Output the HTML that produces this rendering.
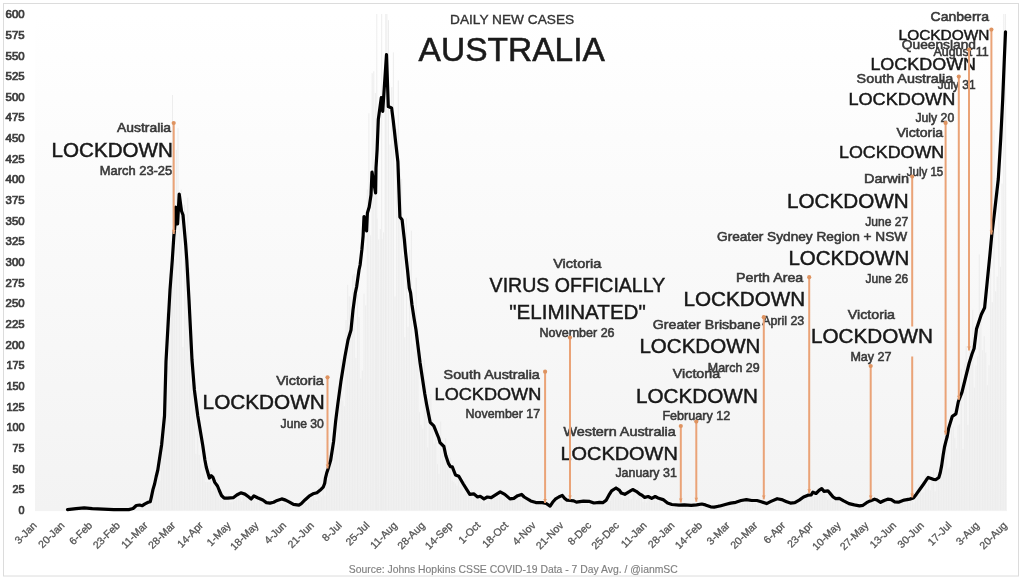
<!DOCTYPE html><html><head><meta charset="utf-8"><style>html,body{margin:0;padding:0;background:#fff;}svg{display:block;will-change:transform;}text{font-family:'Liberation Sans', Arial, sans-serif;}</style></head><body><svg width="1023" height="579" viewBox="0 0 1023 579"><defs><linearGradient id="pg" x1="0" y1="0" x2="0" y2="1"><stop offset="0" stop-color="#ffffff"/><stop offset="0.5" stop-color="#f9f9f9"/><stop offset="1" stop-color="#f3f3f3"/></linearGradient></defs><rect x="3.5" y="3.5" width="1015" height="572.5" fill="#fff" stroke="#dcdcdc" stroke-width="1"/><rect x="35" y="14" width="972" height="497.1" fill="url(#pg)"/><path d="M68.6 510.1V509.6M70.3 510.1V509.6M71.9 510.1V509.1M73.5 510.1V509.5M75.2 510.1V508.9M76.8 510.1V508.9M78.4 510.1V509.2M80.1 510.1V508.4M81.7 510.1V509.0M83.3 510.1V508.2M85.0 510.1V508.9M86.6 510.1V508.9M88.2 510.1V508.5M89.8 510.1V508.1M91.5 510.1V509.2M93.1 510.1V509.2M94.7 510.1V508.8M96.4 510.1V508.5M98.0 510.1V509.0M99.6 510.1V509.2M101.3 510.1V508.8M102.9 510.1V509.6M104.5 510.1V509.1M106.2 510.1V509.5M107.8 510.1V509.7M109.4 510.1V509.7M111.1 510.1V509.6M112.7 510.1V509.5M114.3 510.1V509.8M116.0 510.1V509.6M117.6 510.1V509.6M119.2 510.1V509.7M120.9 510.1V509.6M122.5 510.1V509.8M124.1 510.1V509.8M125.8 510.1V509.8M127.4 510.1V509.6M129.0 510.1V509.6M130.6 510.1V509.4M132.3 510.1V508.7M133.9 510.1V508.0M135.5 510.1V507.2M137.2 510.1V504.5M138.8 510.1V504.7M140.4 510.1V506.6M142.1 510.1V505.7M143.7 510.1V505.0M145.3 510.1V502.2M147.0 510.1V502.1M148.6 510.1V504.2M150.2 510.1V498.9M151.9 510.1V500.9M153.5 510.1V491.0M155.1 510.1V477.4M156.8 510.1V487.5M158.4 510.1V469.8M160.0 510.1V480.9M161.7 510.1V440.0M163.3 510.1V415.8M164.9 510.1V402.1M166.6 510.1V312.8M168.2 510.1V366.2M169.8 510.1V273.6M171.4 510.1V269.9M173.1 510.1V249.9M174.7 510.1V258.9M176.3 510.1V149.8M178.0 510.1V128.1M179.6 510.1V227.4M181.2 510.1V189.7M182.9 510.1V347.1M184.5 510.1V204.9M186.1 510.1V238.0M187.8 510.1V197.6M189.4 510.1V267.9M191.0 510.1V384.4M192.7 510.1V392.7M194.3 510.1V380.4M195.9 510.1V453.8M197.6 510.1V424.5M199.2 510.1V454.9M200.8 510.1V464.4M202.5 510.1V473.5M204.1 510.1V446.0M205.7 510.1V482.1M207.4 510.1V482.2M209.0 510.1V482.2M210.6 510.1V468.3M212.2 510.1V491.1M213.9 510.1V483.5M215.5 510.1V484.2M217.1 510.1V479.4M218.8 510.1V485.1M220.4 510.1V489.0M222.0 510.1V499.7M223.7 510.1V499.5M225.3 510.1V500.5M226.9 510.1V495.2M228.6 510.1V494.4M230.2 510.1V502.5M231.8 510.1V502.1M233.5 510.1V501.3M235.1 510.1V500.4M236.7 510.1V496.4M238.4 510.1V494.1M240.0 510.1V497.9M241.6 510.1V501.5M243.3 510.1V496.0M244.9 510.1V497.1M246.5 510.1V495.6M248.2 510.1V492.3M249.8 510.1V496.8M251.4 510.1V499.5M253.0 510.1V496.5M254.7 510.1V495.3M256.3 510.1V503.0M257.9 510.1V494.7M259.6 510.1V496.7M261.2 510.1V496.7M262.8 510.1V498.2M264.5 510.1V502.7M266.1 510.1V503.6M267.7 510.1V505.8M269.4 510.1V502.7M271.0 510.1V506.1M272.6 510.1V505.8M274.3 510.1V504.5M275.9 510.1V504.3M277.5 510.1V502.4M279.2 510.1V504.5M280.8 510.1V504.6M282.4 510.1V503.2M284.1 510.1V504.0M285.7 510.1V502.0M287.3 510.1V505.3M289.0 510.1V499.8M290.6 510.1V502.6M292.2 510.1V506.1M293.8 510.1V506.1M295.5 510.1V505.8M297.1 510.1V505.9M298.7 510.1V507.1M300.4 510.1V502.9M302.0 510.1V500.4M303.6 510.1V502.2M305.3 510.1V500.6M306.9 510.1V503.3M308.5 510.1V502.2M310.2 510.1V498.6M311.8 510.1V498.8M313.4 510.1V490.3M315.1 510.1V499.3M316.7 510.1V501.1M318.3 510.1V485.9M320.0 510.1V491.3M321.6 510.1V496.8M323.2 510.1V488.0M324.9 510.1V495.5M326.5 510.1V475.8M328.1 510.1V455.0M329.8 510.1V452.3M331.4 510.1V450.6M333.0 510.1V463.3M334.6 510.1V446.0M336.3 510.1V449.8M337.9 510.1V386.6M339.5 510.1V397.1M341.2 510.1V358.8M342.8 510.1V400.6M344.4 510.1V406.3M346.1 510.1V320.1M347.7 510.1V284.8M349.3 510.1V296.3M351.0 510.1V296.8M352.6 510.1V275.6M354.2 510.1V273.9M355.9 510.1V357.9M357.5 510.1V294.4M359.1 510.1V317.0M360.8 510.1V378.5M362.4 510.1V370.7M364.0 510.1V293.7M365.7 510.1V305.3M367.3 510.1V189.4M368.9 510.1V113.3M370.6 510.1V235.4M372.2 510.1V73.2M373.8 510.1V71.3M375.4 510.1V93.0M377.1 510.1V218.7M378.7 510.1V239.5M380.3 510.1V229.1M382.0 510.1V239.3M383.6 510.1V232.4M385.2 510.1V60.2M386.9 510.1V14.0M388.5 510.1V20.2M390.1 510.1V144.6M391.8 510.1V87.1M393.4 510.1V52.4M395.0 510.1V296.4M396.7 510.1V128.9M398.3 510.1V80.4M399.9 510.1V168.6M401.6 510.1V179.0M403.2 510.1V255.6M404.8 510.1V337.1M406.5 510.1V218.0M408.1 510.1V326.8M409.7 510.1V249.8M411.4 510.1V230.8M413.0 510.1V343.9M414.6 510.1V351.6M416.2 510.1V277.7M417.9 510.1V326.0M419.5 510.1V412.2M421.1 510.1V424.9M422.8 510.1V428.7M424.4 510.1V359.5M426.0 510.1V380.8M427.7 510.1V447.4M429.3 510.1V399.1M430.9 510.1V394.0M432.6 510.1V419.7M434.2 510.1V443.7M435.8 510.1V433.6M437.5 510.1V464.2M439.1 510.1V473.9M440.7 510.1V421.6M442.4 510.1V441.6M444.0 510.1V450.2M445.6 510.1V438.4M447.3 510.1V466.5M448.9 510.1V453.0M450.5 510.1V457.8M452.2 510.1V480.7M453.8 510.1V481.9M455.4 510.1V483.6M457.0 510.1V485.8M458.7 510.1V476.3M460.3 510.1V487.6M461.9 510.1V485.8M463.6 510.1V494.4M465.2 510.1V480.7M466.8 510.1V493.7M468.5 510.1V494.2M470.1 510.1V494.4M471.7 510.1V489.8M473.4 510.1V496.2M475.0 510.1V490.6M476.6 510.1V497.2M478.3 510.1V497.5M479.9 510.1V497.1M481.5 510.1V503.4M483.2 510.1V499.8M484.8 510.1V502.5M486.4 510.1V503.8M488.1 510.1V494.8M489.7 510.1V501.9M491.3 510.1V498.7M493.0 510.1V494.9M494.6 510.1V495.8M496.2 510.1V497.9M497.8 510.1V494.3M499.5 510.1V492.8M501.1 510.1V489.4M502.7 510.1V500.1M504.4 510.1V494.5M506.0 510.1V499.7M507.6 510.1V500.4M509.3 510.1V496.4M510.9 510.1V499.5M512.5 510.1V498.8M514.2 510.1V496.3M515.8 510.1V493.3M517.4 510.1V497.6M519.1 510.1V494.9M520.7 510.1V495.8M522.3 510.1V496.1M524.0 510.1V495.6M525.6 510.1V499.3M527.2 510.1V499.3M528.9 510.1V500.8M530.5 510.1V498.0M532.1 510.1V500.5M533.8 510.1V499.9M535.4 510.1V500.1M537.0 510.1V504.7M538.6 510.1V502.8M540.3 510.1V500.3M541.9 510.1V501.0M543.5 510.1V505.7M545.2 510.1V506.0M546.8 510.1V504.7M548.4 510.1V507.2M550.1 510.1V507.3M551.7 510.1V506.5M553.3 510.1V500.9M555.0 510.1V497.8M556.6 510.1V495.3M558.2 510.1V502.1M559.9 510.1V495.0M561.5 510.1V494.9M563.1 510.1V501.6M564.8 510.1V495.6M566.4 510.1V496.5M568.0 510.1V503.3M569.7 510.1V497.4M571.3 510.1V502.2M572.9 510.1V501.6M574.6 510.1V498.3M576.2 510.1V500.3M577.8 510.1V504.9M579.4 510.1V502.8M581.1 510.1V502.0M582.7 510.1V503.2M584.3 510.1V504.2M586.0 510.1V503.3M587.6 510.1V500.3M589.2 510.1V505.6M590.9 510.1V502.1M592.5 510.1V503.4M594.1 510.1V506.4M595.8 510.1V504.4M597.4 510.1V502.4M599.0 510.1V502.9M600.7 510.1V505.9M602.3 510.1V500.1M603.9 510.1V500.5M605.6 510.1V497.6M607.2 510.1V503.2M608.8 510.1V499.4M610.5 510.1V500.8M612.1 510.1V487.3M613.7 510.1V495.0M615.4 510.1V496.9M617.0 510.1V491.7M618.6 510.1V484.2M620.2 510.1V487.9M621.9 510.1V498.0M623.5 510.1V499.9M625.1 510.1V489.6M626.8 510.1V493.4M628.4 510.1V490.5M630.0 510.1V499.2M631.7 510.1V499.1M633.3 510.1V488.1M634.9 510.1V493.3M636.6 510.1V499.7M638.2 510.1V487.8M639.8 510.1V493.5M641.5 510.1V492.2M643.1 510.1V502.1M644.7 510.1V494.5M646.4 510.1V502.8M648.0 510.1V493.4M649.6 510.1V498.7M651.3 510.1V500.6M652.9 510.1V498.1M654.5 510.1V493.0M656.2 510.1V500.6M657.8 510.1V502.6M659.4 510.1V499.1M661.0 510.1V502.3M662.7 510.1V503.8M664.3 510.1V504.0M665.9 510.1V505.6M667.6 510.1V505.4M669.2 510.1V505.2M670.8 510.1V505.6M672.5 510.1V503.7M674.1 510.1V506.1M675.7 510.1V505.2M677.4 510.1V506.8M679.0 510.1V506.1M680.6 510.1V507.5M682.3 510.1V506.4M683.9 510.1V507.4M685.5 510.1V504.3M687.2 510.1V505.2M688.8 510.1V506.8M690.4 510.1V505.7M692.1 510.1V503.8M693.7 510.1V507.2M695.3 510.1V504.0M697.0 510.1V505.5M698.6 510.1V505.0M700.2 510.1V503.1M701.8 510.1V505.0M703.5 510.1V504.8M705.1 510.1V504.4M706.7 510.1V503.8M708.4 510.1V506.8M710.0 510.1V505.9M711.6 510.1V506.6M713.3 510.1V506.9M714.9 510.1V507.4M716.5 510.1V507.3M718.2 510.1V508.0M719.8 510.1V507.6M721.4 510.1V507.6M723.1 510.1V504.5M724.7 510.1V506.2M726.3 510.1V506.3M728.0 510.1V506.5M729.6 510.1V501.9M731.2 510.1V501.3M732.9 510.1V502.2M734.5 510.1V504.5M736.1 510.1V504.5M737.8 510.1V503.8M739.4 510.1V502.1M741.0 510.1V504.0M742.6 510.1V501.4M744.3 510.1V502.8M745.9 510.1V496.4M747.5 510.1V496.4M749.2 510.1V500.4M750.8 510.1V503.2M752.4 510.1V497.4M754.1 510.1V502.8M755.7 510.1V502.4M757.3 510.1V505.4M759.0 510.1V502.7M760.6 510.1V502.4M762.2 510.1V502.7M763.9 510.1V505.1M765.5 510.1V503.7M767.1 510.1V506.7M768.8 510.1V504.6M770.4 510.1V505.3M772.0 510.1V502.4M773.7 510.1V504.8M775.3 510.1V504.6M776.9 510.1V501.5M778.6 510.1V502.3M780.2 510.1V499.3M781.8 510.1V500.2M783.4 510.1V499.0M785.1 510.1V500.5M786.7 510.1V500.8M788.3 510.1V500.4M790.0 510.1V504.1M791.6 510.1V504.6M793.2 510.1V500.4M794.9 510.1V505.4M796.5 510.1V500.7M798.1 510.1V500.3M799.8 510.1V504.5M801.4 510.1V496.1M803.0 510.1V494.1M804.7 510.1V496.1M806.3 510.1V494.1M807.9 510.1V492.4M809.6 510.1V500.8M811.2 510.1V495.6M812.8 510.1V493.6M814.5 510.1V489.2M816.1 510.1V490.3M817.7 510.1V488.1M819.4 510.1V490.3M821.0 510.1V483.7M822.6 510.1V488.1M824.2 510.1V489.6M825.9 510.1V496.9M827.5 510.1V500.0M829.1 510.1V499.2M830.8 510.1V497.3M832.4 510.1V501.9M834.0 510.1V495.0M835.7 510.1V498.9M837.3 510.1V498.1M838.9 510.1V498.0M840.6 510.1V498.2M842.2 510.1V500.9M843.8 510.1V505.5M845.5 510.1V500.3M847.1 510.1V501.6M848.7 510.1V503.9M850.4 510.1V504.2M852.0 510.1V504.0M853.6 510.1V507.1M855.3 510.1V504.4M856.9 510.1V506.7M858.5 510.1V507.6M860.2 510.1V506.9M861.8 510.1V504.9M863.4 510.1V506.7M865.0 510.1V503.0M866.7 510.1V500.2M868.3 510.1V502.5M869.9 510.1V502.6M871.6 510.1V501.2M873.2 510.1V498.9M874.8 510.1V497.7M876.5 510.1V499.6M878.1 510.1V500.3M879.7 510.1V505.4M881.4 510.1V505.0M883.0 510.1V503.7M884.6 510.1V499.1M886.3 510.1V502.2M887.9 510.1V499.4M889.5 510.1V504.6M891.2 510.1V504.3M892.8 510.1V503.2M894.4 510.1V501.0M896.1 510.1V501.2M897.7 510.1V501.5M899.3 510.1V504.0M901.0 510.1V501.8M902.6 510.1V501.7M904.2 510.1V501.1M905.8 510.1V503.9M907.5 510.1V496.8M909.1 510.1V502.8M910.7 510.1V495.1M912.4 510.1V494.8M914.0 510.1V503.5M915.6 510.1V496.8M917.3 510.1V489.5M918.9 510.1V484.3M920.5 510.1V490.9M922.2 510.1V492.6M923.8 510.1V492.2M925.4 510.1V472.6M927.1 510.1V489.0M928.7 510.1V477.8M930.3 510.1V490.3M932.0 510.1V480.5M933.6 510.1V469.8M935.2 510.1V491.4M936.9 510.1V472.8M938.5 510.1V479.9M940.1 510.1V463.7M941.8 510.1V460.6M943.4 510.1V470.9M945.0 510.1V427.7M946.6 510.1V444.7M948.3 510.1V468.5M949.9 510.1V466.8M951.5 510.1V426.3M953.2 510.1V426.7M954.8 510.1V437.9M956.4 510.1V448.8M958.1 510.1V425.2M959.7 510.1V424.0M961.3 510.1V368.9M963.0 510.1V449.0M964.6 510.1V363.8M966.2 510.1V346.1M967.9 510.1V424.8M969.5 510.1V319.5M971.1 510.1V340.5M972.8 510.1V309.9M974.4 510.1V387.7M976.0 510.1V365.5M977.7 510.1V356.2M979.3 510.1V254.5M980.9 510.1V315.5M982.6 510.1V350.3M984.2 510.1V336.1M985.8 510.1V352.7M987.4 510.1V385.2M989.1 510.1V365.2M990.7 510.1V190.9M992.3 510.1V302.1M994.0 510.1V130.1M995.6 510.1V291.3M997.2 510.1V276.6M998.9 510.1V191.9M1000.5 510.1V266.9M1002.1 510.1V183.6M1003.8 510.1V14.0M1005.4 510.1V14.0M172.5 510.1V95.0M376.8 510.1V14.0M381.7 510.1V14.0M385.8 510.1V14.0" stroke="#ebebeb" stroke-width="0.9" fill="none"/><text x="18.60" y="513.80" font-size="10.4" fill="#3c3c3c" stroke="#3c3c3c" stroke-width="0.7" textLength="6.0" lengthAdjust="spacingAndGlyphs">0</text><text x="12.60" y="493.15" font-size="10.4" fill="#3c3c3c" stroke="#3c3c3c" stroke-width="0.7" textLength="12.0" lengthAdjust="spacingAndGlyphs">25</text><text x="12.60" y="472.50" font-size="10.4" fill="#3c3c3c" stroke="#3c3c3c" stroke-width="0.7" textLength="12.0" lengthAdjust="spacingAndGlyphs">50</text><text x="12.60" y="451.85" font-size="10.4" fill="#3c3c3c" stroke="#3c3c3c" stroke-width="0.7" textLength="12.0" lengthAdjust="spacingAndGlyphs">75</text><text x="6.40" y="431.20" font-size="10.4" fill="#3c3c3c" stroke="#3c3c3c" stroke-width="0.7" textLength="18.2" lengthAdjust="spacingAndGlyphs">100</text><text x="6.40" y="410.55" font-size="10.4" fill="#3c3c3c" stroke="#3c3c3c" stroke-width="0.7" textLength="18.2" lengthAdjust="spacingAndGlyphs">125</text><text x="6.40" y="389.90" font-size="10.4" fill="#3c3c3c" stroke="#3c3c3c" stroke-width="0.7" textLength="18.2" lengthAdjust="spacingAndGlyphs">150</text><text x="6.40" y="369.25" font-size="10.4" fill="#3c3c3c" stroke="#3c3c3c" stroke-width="0.7" textLength="18.2" lengthAdjust="spacingAndGlyphs">175</text><text x="5.60" y="348.60" font-size="10.4" fill="#3c3c3c" stroke="#3c3c3c" stroke-width="0.7" textLength="19.0" lengthAdjust="spacingAndGlyphs">200</text><text x="5.60" y="327.95" font-size="10.4" fill="#3c3c3c" stroke="#3c3c3c" stroke-width="0.7" textLength="19.0" lengthAdjust="spacingAndGlyphs">225</text><text x="5.60" y="307.30" font-size="10.4" fill="#3c3c3c" stroke="#3c3c3c" stroke-width="0.7" textLength="19.0" lengthAdjust="spacingAndGlyphs">250</text><text x="5.60" y="286.65" font-size="10.4" fill="#3c3c3c" stroke="#3c3c3c" stroke-width="0.7" textLength="19.0" lengthAdjust="spacingAndGlyphs">275</text><text x="5.60" y="266.00" font-size="10.4" fill="#3c3c3c" stroke="#3c3c3c" stroke-width="0.7" textLength="19.0" lengthAdjust="spacingAndGlyphs">300</text><text x="5.60" y="245.35" font-size="10.4" fill="#3c3c3c" stroke="#3c3c3c" stroke-width="0.7" textLength="19.0" lengthAdjust="spacingAndGlyphs">325</text><text x="5.60" y="224.70" font-size="10.4" fill="#3c3c3c" stroke="#3c3c3c" stroke-width="0.7" textLength="19.0" lengthAdjust="spacingAndGlyphs">350</text><text x="5.60" y="204.05" font-size="10.4" fill="#3c3c3c" stroke="#3c3c3c" stroke-width="0.7" textLength="19.0" lengthAdjust="spacingAndGlyphs">375</text><text x="5.60" y="183.40" font-size="10.4" fill="#3c3c3c" stroke="#3c3c3c" stroke-width="0.7" textLength="19.0" lengthAdjust="spacingAndGlyphs">400</text><text x="5.60" y="162.75" font-size="10.4" fill="#3c3c3c" stroke="#3c3c3c" stroke-width="0.7" textLength="19.0" lengthAdjust="spacingAndGlyphs">425</text><text x="5.60" y="142.10" font-size="10.4" fill="#3c3c3c" stroke="#3c3c3c" stroke-width="0.7" textLength="19.0" lengthAdjust="spacingAndGlyphs">450</text><text x="5.60" y="121.45" font-size="10.4" fill="#3c3c3c" stroke="#3c3c3c" stroke-width="0.7" textLength="19.0" lengthAdjust="spacingAndGlyphs">475</text><text x="5.60" y="100.80" font-size="10.4" fill="#3c3c3c" stroke="#3c3c3c" stroke-width="0.7" textLength="19.0" lengthAdjust="spacingAndGlyphs">500</text><text x="5.60" y="80.15" font-size="10.4" fill="#3c3c3c" stroke="#3c3c3c" stroke-width="0.7" textLength="19.0" lengthAdjust="spacingAndGlyphs">525</text><text x="5.60" y="59.50" font-size="10.4" fill="#3c3c3c" stroke="#3c3c3c" stroke-width="0.7" textLength="19.0" lengthAdjust="spacingAndGlyphs">550</text><text x="5.60" y="38.85" font-size="10.4" fill="#3c3c3c" stroke="#3c3c3c" stroke-width="0.7" textLength="19.0" lengthAdjust="spacingAndGlyphs">575</text><text x="5.60" y="18.20" font-size="10.4" fill="#3c3c3c" stroke="#3c3c3c" stroke-width="0.7" textLength="19.0" lengthAdjust="spacingAndGlyphs">600</text><text transform="translate(37.50,526.00) rotate(-45)" x="0" y="0" font-size="10.5" fill="#555555" stroke="#555555" stroke-width="0.3" text-anchor="end">3-Jan</text><text transform="translate(65.22,526.00) rotate(-45)" x="0" y="0" font-size="10.5" fill="#555555" stroke="#555555" stroke-width="0.3" text-anchor="end">20-Jan</text><text transform="translate(92.94,526.00) rotate(-45)" x="0" y="0" font-size="10.5" fill="#555555" stroke="#555555" stroke-width="0.3" text-anchor="end">6-Feb</text><text transform="translate(120.66,526.00) rotate(-45)" x="0" y="0" font-size="10.5" fill="#555555" stroke="#555555" stroke-width="0.3" text-anchor="end">23-Feb</text><text transform="translate(148.38,526.00) rotate(-45)" x="0" y="0" font-size="10.5" fill="#555555" stroke="#555555" stroke-width="0.3" text-anchor="end">11-Mar</text><text transform="translate(176.10,526.00) rotate(-45)" x="0" y="0" font-size="10.5" fill="#555555" stroke="#555555" stroke-width="0.3" text-anchor="end">28-Mar</text><text transform="translate(203.82,526.00) rotate(-45)" x="0" y="0" font-size="10.5" fill="#555555" stroke="#555555" stroke-width="0.3" text-anchor="end">14-Apr</text><text transform="translate(231.54,526.00) rotate(-45)" x="0" y="0" font-size="10.5" fill="#555555" stroke="#555555" stroke-width="0.3" text-anchor="end">1-May</text><text transform="translate(259.26,526.00) rotate(-45)" x="0" y="0" font-size="10.5" fill="#555555" stroke="#555555" stroke-width="0.3" text-anchor="end">18-May</text><text transform="translate(286.98,526.00) rotate(-45)" x="0" y="0" font-size="10.5" fill="#555555" stroke="#555555" stroke-width="0.3" text-anchor="end">4-Jun</text><text transform="translate(314.70,526.00) rotate(-45)" x="0" y="0" font-size="10.5" fill="#555555" stroke="#555555" stroke-width="0.3" text-anchor="end">21-Jun</text><text transform="translate(342.42,526.00) rotate(-45)" x="0" y="0" font-size="10.5" fill="#555555" stroke="#555555" stroke-width="0.3" text-anchor="end">8-Jul</text><text transform="translate(370.14,526.00) rotate(-45)" x="0" y="0" font-size="10.5" fill="#555555" stroke="#555555" stroke-width="0.3" text-anchor="end">25-Jul</text><text transform="translate(397.86,526.00) rotate(-45)" x="0" y="0" font-size="10.5" fill="#555555" stroke="#555555" stroke-width="0.3" text-anchor="end">11-Aug</text><text transform="translate(425.58,526.00) rotate(-45)" x="0" y="0" font-size="10.5" fill="#555555" stroke="#555555" stroke-width="0.3" text-anchor="end">28-Aug</text><text transform="translate(453.30,526.00) rotate(-45)" x="0" y="0" font-size="10.5" fill="#555555" stroke="#555555" stroke-width="0.3" text-anchor="end">14-Sep</text><text transform="translate(481.02,526.00) rotate(-45)" x="0" y="0" font-size="10.5" fill="#555555" stroke="#555555" stroke-width="0.3" text-anchor="end">1-Oct</text><text transform="translate(508.74,526.00) rotate(-45)" x="0" y="0" font-size="10.5" fill="#555555" stroke="#555555" stroke-width="0.3" text-anchor="end">18-Oct</text><text transform="translate(536.46,526.00) rotate(-45)" x="0" y="0" font-size="10.5" fill="#555555" stroke="#555555" stroke-width="0.3" text-anchor="end">4-Nov</text><text transform="translate(564.18,526.00) rotate(-45)" x="0" y="0" font-size="10.5" fill="#555555" stroke="#555555" stroke-width="0.3" text-anchor="end">21-Nov</text><text transform="translate(591.90,526.00) rotate(-45)" x="0" y="0" font-size="10.5" fill="#555555" stroke="#555555" stroke-width="0.3" text-anchor="end">8-Dec</text><text transform="translate(619.62,526.00) rotate(-45)" x="0" y="0" font-size="10.5" fill="#555555" stroke="#555555" stroke-width="0.3" text-anchor="end">25-Dec</text><text transform="translate(647.34,526.00) rotate(-45)" x="0" y="0" font-size="10.5" fill="#555555" stroke="#555555" stroke-width="0.3" text-anchor="end">11-Jan</text><text transform="translate(675.06,526.00) rotate(-45)" x="0" y="0" font-size="10.5" fill="#555555" stroke="#555555" stroke-width="0.3" text-anchor="end">28-Jan</text><text transform="translate(702.78,526.00) rotate(-45)" x="0" y="0" font-size="10.5" fill="#555555" stroke="#555555" stroke-width="0.3" text-anchor="end">14-Feb</text><text transform="translate(730.50,526.00) rotate(-45)" x="0" y="0" font-size="10.5" fill="#555555" stroke="#555555" stroke-width="0.3" text-anchor="end">3-Mar</text><text transform="translate(758.22,526.00) rotate(-45)" x="0" y="0" font-size="10.5" fill="#555555" stroke="#555555" stroke-width="0.3" text-anchor="end">20-Mar</text><text transform="translate(785.94,526.00) rotate(-45)" x="0" y="0" font-size="10.5" fill="#555555" stroke="#555555" stroke-width="0.3" text-anchor="end">6-Apr</text><text transform="translate(813.66,526.00) rotate(-45)" x="0" y="0" font-size="10.5" fill="#555555" stroke="#555555" stroke-width="0.3" text-anchor="end">23-Apr</text><text transform="translate(841.38,526.00) rotate(-45)" x="0" y="0" font-size="10.5" fill="#555555" stroke="#555555" stroke-width="0.3" text-anchor="end">10-May</text><text transform="translate(869.10,526.00) rotate(-45)" x="0" y="0" font-size="10.5" fill="#555555" stroke="#555555" stroke-width="0.3" text-anchor="end">27-May</text><text transform="translate(896.82,526.00) rotate(-45)" x="0" y="0" font-size="10.5" fill="#555555" stroke="#555555" stroke-width="0.3" text-anchor="end">13-Jun</text><text transform="translate(924.54,526.00) rotate(-45)" x="0" y="0" font-size="10.5" fill="#555555" stroke="#555555" stroke-width="0.3" text-anchor="end">30-Jun</text><text transform="translate(952.26,526.00) rotate(-45)" x="0" y="0" font-size="10.5" fill="#555555" stroke="#555555" stroke-width="0.3" text-anchor="end">17-Jul</text><text transform="translate(979.98,526.00) rotate(-45)" x="0" y="0" font-size="10.5" fill="#555555" stroke="#555555" stroke-width="0.3" text-anchor="end">3-Aug</text><text transform="translate(1007.70,526.00) rotate(-45)" x="0" y="0" font-size="10.5" fill="#555555" stroke="#555555" stroke-width="0.3" text-anchor="end">20-Aug</text><path d="M67.5 509.6 L76.1 508.7 L84.2 507.8 L92.3 508.7 L103.0 509.2 L113.8 509.6 L128.8 509.6 L133.1 508.5 L136.3 505.5 L139.6 505.0 L142.3 505.7 L145.0 503.9 L148.2 502.3 L150.3 501.7 L151.4 496.9 L153.0 489.4 L154.6 484.0 L156.2 476.5 L157.8 470.0 L161.6 445.0 L164.5 416.0 L166.0 361.4 L170.0 290.0 L172.3 260.0 L173.8 237.0 L175.0 224.0 L175.6 207.0 L177.6 224.0 L179.2 194.0 L181.5 211.0 L183.0 215.0 L185.7 245.0 L186.8 260.0 L189.0 300.0 L192.0 360.0 L194.4 390.0 L197.8 416.0 L202.7 445.0 L204.9 460.0 L206.3 467.2 L208.1 473.5 L209.4 478.0 L211.2 475.7 L213.0 477.5 L214.8 482.4 L217.5 486.0 L219.3 490.5 L221.5 495.5 L224.2 498.2 L227.8 498.2 L233.2 497.7 L236.8 495.0 L240.8 492.8 L244.9 494.1 L248.5 496.8 L251.2 499.0 L253.9 495.9 L257.5 497.7 L262.8 500.0 L266.4 502.6 L270.0 503.1 L273.6 502.2 L277.2 500.4 L281.7 498.9 L285.6 500.1 L289.5 502.1 L293.5 504.4 L298.9 505.2 L301.3 503.6 L305.2 499.7 L309.1 496.2 L313.0 493.8 L316.9 492.7 L320.0 490.3 L323.2 487.2 L324.7 483.3 L325.5 477.8 L326.7 473.1 L328.2 468.5 L330.7 460.0 L333.6 441.5 L335.7 420.7 L337.8 404.1 L340.9 381.6 L344.9 356.7 L348.0 340.0 L351.0 330.0 L353.0 310.0 L355.3 293.0 L356.6 287.0 L359.0 270.0 L360.1 265.0 L361.9 249.4 L363.1 236.0 L364.0 216.5 L366.6 231.0 L367.4 213.0 L369.2 207.0 L371.0 195.0 L372.0 172.0 L375.6 193.0 L376.0 168.0 L377.1 150.0 L378.3 119.5 L381.3 97.6 L382.7 111.4 L386.5 54.7 L388.3 106.6 L391.6 107.9 L393.2 120.3 L396.0 145.2 L397.9 161.7 L399.9 216.9 L402.1 219.7 L404.3 239.0 L405.5 252.0 L407.5 270.0 L409.3 288.0 L410.6 293.0 L412.0 305.0 L414.0 318.0 L416.0 330.0 L420.1 363.0 L424.8 394.0 L426.6 404.2 L430.2 422.3 L433.8 425.9 L438.7 438.0 L440.0 442.6 L443.9 446.5 L445.8 455.5 L448.4 463.3 L450.4 466.6 L452.3 466.8 L455.5 475.0 L458.8 476.3 L463.3 484.0 L469.8 494.4 L473.7 493.8 L477.6 497.0 L480.2 496.3 L484.0 498.9 L487.3 497.0 L491.2 497.6 L500.2 491.8 L504.8 494.4 L510.0 498.9 L513.8 498.3 L517.7 495.7 L521.6 494.4 L524.2 497.0 L530.7 500.9 L535.9 502.6 L542.3 502.6 L546.2 503.5 L550.1 506.1 L552.6 502.3 L555.3 499.2 L558.8 497.0 L562.3 495.4 L564.5 498.3 L566.7 500.1 L570.2 500.5 L573.7 500.9 L576.4 502.1 L583.4 501.2 L589.6 501.4 L594.0 503.0 L599.3 502.4 L602.8 502.7 L606.3 500.1 L608.9 495.2 L611.6 490.8 L616.0 488.0 L619.5 490.4 L621.2 493.0 L624.8 494.3 L629.2 491.7 L632.7 489.5 L636.2 491.3 L640.0 494.3 L642.0 495.2 L644.7 497.4 L648.2 496.5 L651.7 498.3 L655.2 496.5 L658.7 498.3 L663.1 499.6 L667.5 503.1 L671.9 504.5 L679.0 505.1 L684.3 504.9 L691.3 505.3 L696.6 504.9 L701.8 504.0 L705.4 504.9 L710.6 506.8 L714.2 507.1 L718.6 506.2 L720.0 506.0 L725.3 504.5 L730.6 503.1 L735.8 502.3 L741.1 500.5 L746.4 499.6 L751.7 500.5 L756.9 500.5 L761.3 501.8 L766.6 503.6 L771.0 501.4 L777.2 498.7 L781.6 499.6 L786.0 501.4 L790.4 503.1 L794.8 502.7 L799.2 500.1 L803.6 497.0 L808.0 495.2 L811.2 494.8 L812.9 492.2 L816.0 493.5 L819.1 490.4 L821.7 488.6 L823.9 491.3 L827.9 490.8 L830.5 493.9 L833.1 497.0 L835.8 498.7 L839.3 498.3 L843.7 500.9 L849.0 503.6 L854.3 504.9 L859.5 505.8 L863.0 505.3 L866.6 502.7 L870.1 500.9 L874.5 499.2 L877.1 500.1 L880.6 502.3 L884.2 500.5 L887.7 499.2 L891.2 499.6 L894.7 501.8 L898.5 502.2 L904.2 500.1 L909.8 499.1 L913.4 498.0 L916.2 494.4 L919.7 489.5 L923.3 484.5 L926.1 480.3 L928.2 477.4 L930.4 478.2 L933.2 479.3 L936.0 479.6 L938.9 477.4 L940.3 472.5 L941.7 465.4 L943.1 455.5 L944.5 447.0 L945.9 441.3 L947.2 436.5 L948.6 428.4 L952.3 416.3 L955.9 413.9 L958.3 401.8 L962.0 392.1 L965.6 377.5 L969.2 363.0 L972.0 354.0 L974.1 348.5 L976.5 329.1 L981.3 314.5 L984.6 307.8 L987.2 281.8 L989.8 255.9 L991.8 234.6 L994.7 210.8 L998.3 179.0 L1000.7 139.2 L1002.7 99.5 L1004.3 59.7 L1005.5 31.9" fill="none" stroke="#000" stroke-width="3.2" stroke-linejoin="round" stroke-linecap="round"/><text x="117.00" y="132.00" font-size="12.65" font-weight="normal" fill="#383838" stroke="#383838" stroke-width="0.55" textLength="54.03" lengthAdjust="spacingAndGlyphs">Australia</text><text x="51.60" y="157.00" font-size="19.51" font-weight="normal" fill="#181818" stroke="#181818" stroke-width="0.45" textLength="121.26" lengthAdjust="spacingAndGlyphs">LOCKDOWN</text><text x="99.80" y="174.80" font-size="12.35" font-weight="normal" fill="#383838" stroke="#383838" stroke-width="0.55" textLength="72.41" lengthAdjust="spacingAndGlyphs">March 23-25</text><text x="276.20" y="385.00" font-size="12.65" font-weight="normal" fill="#383838" stroke="#383838" stroke-width="0.55" textLength="47.64" lengthAdjust="spacingAndGlyphs">Victoria</text><text x="202.60" y="409.10" font-size="19.75" font-weight="normal" fill="#181818" stroke="#181818" stroke-width="0.45" textLength="122.24" lengthAdjust="spacingAndGlyphs">LOCKDOWN</text><text x="280.60" y="427.90" font-size="12.35" font-weight="normal" fill="#383838" stroke="#383838" stroke-width="0.55" textLength="43.21" lengthAdjust="spacingAndGlyphs">June 30</text><text x="443.60" y="379.10" font-size="12.65" font-weight="normal" fill="#383838" stroke="#383838" stroke-width="0.55" textLength="96.20" lengthAdjust="spacingAndGlyphs">South Australia</text><text x="434.60" y="400.30" font-size="17.21" font-weight="normal" fill="#181818" stroke="#181818" stroke-width="0.45" textLength="106.65" lengthAdjust="spacingAndGlyphs">LOCKDOWN</text><text x="465.60" y="418.40" font-size="12.35" font-weight="normal" fill="#383838" stroke="#383838" stroke-width="0.55" textLength="74.60" lengthAdjust="spacingAndGlyphs">November 17</text><text x="553.20" y="268.00" font-size="12.65" font-weight="normal" fill="#383838" stroke="#383838" stroke-width="0.55" textLength="48.23" lengthAdjust="spacingAndGlyphs">Victoria</text><text x="489.60" y="292.00" font-size="19.91" font-weight="normal" fill="#181818" stroke="#181818" stroke-width="0.45" textLength="175.61" lengthAdjust="spacingAndGlyphs">VIRUS OFFICIALLY</text><text x="509.20" y="318.80" font-size="20.49" font-weight="normal" fill="#181818" stroke="#181818" stroke-width="0.45" textLength="136.60" lengthAdjust="spacingAndGlyphs">"ELIMINATED"</text><text x="539.40" y="337.00" font-size="12.35" font-weight="normal" fill="#383838" stroke="#383838" stroke-width="0.55" textLength="75.20" lengthAdjust="spacingAndGlyphs">November 26</text><text x="563.40" y="436.30" font-size="12.65" font-weight="normal" fill="#383838" stroke="#383838" stroke-width="0.55" textLength="112.41" lengthAdjust="spacingAndGlyphs">Western Australia</text><text x="560.40" y="459.70" font-size="18.98" font-weight="normal" fill="#181818" stroke="#181818" stroke-width="0.45" textLength="117.44" lengthAdjust="spacingAndGlyphs">LOCKDOWN</text><text x="615.40" y="477.30" font-size="12.35" font-weight="normal" fill="#383838" stroke="#383838" stroke-width="0.55" textLength="61.41" lengthAdjust="spacingAndGlyphs">January 31</text><text x="672.80" y="377.90" font-size="12.65" font-weight="normal" fill="#383838" stroke="#383838" stroke-width="0.55" textLength="47.41" lengthAdjust="spacingAndGlyphs">Victoria</text><text x="636.00" y="402.50" font-size="19.66" font-weight="normal" fill="#181818" stroke="#181818" stroke-width="0.45" textLength="121.85" lengthAdjust="spacingAndGlyphs">LOCKDOWN</text><text x="662.40" y="420.10" font-size="12.35" font-weight="normal" fill="#383838" stroke="#383838" stroke-width="0.55" textLength="67.83" lengthAdjust="spacingAndGlyphs">February 12</text><text x="652.80" y="329.30" font-size="12.65" font-weight="normal" fill="#383838" stroke="#383838" stroke-width="0.55" textLength="107.81" lengthAdjust="spacingAndGlyphs">Greater Brisbane</text><text x="639.40" y="353.20" font-size="19.62" font-weight="normal" fill="#181818" stroke="#181818" stroke-width="0.45" textLength="121.06" lengthAdjust="spacingAndGlyphs">LOCKDOWN</text><text x="707.80" y="371.80" font-size="12.35" font-weight="normal" fill="#383838" stroke="#383838" stroke-width="0.55" textLength="51.81" lengthAdjust="spacingAndGlyphs">March 29</text><text x="736.00" y="281.90" font-size="12.65" font-weight="normal" fill="#383838" stroke="#383838" stroke-width="0.55" textLength="67.21" lengthAdjust="spacingAndGlyphs">Perth Area</text><text x="683.40" y="306.20" font-size="19.74" font-weight="normal" fill="#181818" stroke="#181818" stroke-width="0.45" textLength="121.83" lengthAdjust="spacingAndGlyphs">LOCKDOWN</text><text x="762.20" y="324.50" font-size="12.35" font-weight="normal" fill="#383838" stroke="#383838" stroke-width="0.55" textLength="42.01" lengthAdjust="spacingAndGlyphs">April 23</text><text x="847.80" y="319.10" font-size="12.65" font-weight="normal" fill="#383838" stroke="#383838" stroke-width="0.55" textLength="47.22" lengthAdjust="spacingAndGlyphs">Victoria</text><text x="811.00" y="343.30" font-size="19.57" font-weight="normal" fill="#181818" stroke="#181818" stroke-width="0.45" textLength="121.88" lengthAdjust="spacingAndGlyphs">LOCKDOWN</text><text x="850.40" y="360.90" font-size="12.35" font-weight="normal" fill="#383838" stroke="#383838" stroke-width="0.55" textLength="41.02" lengthAdjust="spacingAndGlyphs">May 27</text><text x="717.00" y="240.60" font-size="12.65" font-weight="normal" fill="#383838" stroke="#383838" stroke-width="0.55" textLength="190.20" lengthAdjust="spacingAndGlyphs">Greater Sydney Region + NSW</text><text x="788.40" y="265.00" font-size="19.57" font-weight="normal" fill="#181818" stroke="#181818" stroke-width="0.45" textLength="120.83" lengthAdjust="spacingAndGlyphs">LOCKDOWN</text><text x="865.60" y="283.20" font-size="12.35" font-weight="normal" fill="#383838" stroke="#383838" stroke-width="0.55" textLength="42.61" lengthAdjust="spacingAndGlyphs">June 26</text><text x="864.00" y="182.70" font-size="12.65" font-weight="normal" fill="#383838" stroke="#383838" stroke-width="0.55" textLength="45.02" lengthAdjust="spacingAndGlyphs">Darwin</text><text x="787.00" y="207.50" font-size="19.61" font-weight="normal" fill="#181818" stroke="#181818" stroke-width="0.45" textLength="121.68" lengthAdjust="spacingAndGlyphs">LOCKDOWN</text><text x="865.20" y="225.60" font-size="12.35" font-weight="normal" fill="#383838" stroke="#383838" stroke-width="0.55" textLength="43.00" lengthAdjust="spacingAndGlyphs">June 27</text><text x="896.40" y="136.60" font-size="12.65" font-weight="normal" fill="#383838" stroke="#383838" stroke-width="0.55" textLength="46.81" lengthAdjust="spacingAndGlyphs">Victoria</text><text x="839.00" y="158.10" font-size="17.12" font-weight="normal" fill="#181818" stroke="#181818" stroke-width="0.45" textLength="105.23" lengthAdjust="spacingAndGlyphs">LOCKDOWN</text><text x="906.80" y="175.70" font-size="12.35" font-weight="normal" fill="#383838" stroke="#383838" stroke-width="0.55" textLength="36.41" lengthAdjust="spacingAndGlyphs">July 15</text><text x="856.60" y="82.90" font-size="12.65" font-weight="normal" fill="#383838" stroke="#383838" stroke-width="0.55" textLength="96.60" lengthAdjust="spacingAndGlyphs">South Australia</text><text x="848.40" y="104.90" font-size="17.18" font-weight="normal" fill="#181818" stroke="#181818" stroke-width="0.45" textLength="106.85" lengthAdjust="spacingAndGlyphs">LOCKDOWN</text><text x="915.40" y="121.80" font-size="12.35" font-weight="normal" fill="#383838" stroke="#383838" stroke-width="0.55" textLength="38.81" lengthAdjust="spacingAndGlyphs">July 20</text><text x="901.80" y="48.50" font-size="12.65" font-weight="normal" fill="#383838" stroke="#383838" stroke-width="0.55" textLength="74.21" lengthAdjust="spacingAndGlyphs">Queensland</text><text x="870.40" y="70.40" font-size="17.05" font-weight="normal" fill="#181818" stroke="#181818" stroke-width="0.45" textLength="105.63" lengthAdjust="spacingAndGlyphs">LOCKDOWN</text><text x="937.80" y="88.60" font-size="12.35" font-weight="normal" fill="#383838" stroke="#383838" stroke-width="0.55" textLength="37.81" lengthAdjust="spacingAndGlyphs">July 31</text><text x="930.60" y="20.60" font-size="12.65" font-weight="normal" fill="#383838" stroke="#383838" stroke-width="0.55" textLength="58.41" lengthAdjust="spacingAndGlyphs">Canberra</text><text x="898.60" y="39.50" font-size="14.71" font-weight="normal" fill="#181818" stroke="#181818" stroke-width="0.45" textLength="90.83" lengthAdjust="spacingAndGlyphs">LOCKDOWN</text><text x="933.40" y="55.80" font-size="12.35" font-weight="normal" fill="#383838" stroke="#383838" stroke-width="0.55" textLength="55.20" lengthAdjust="spacingAndGlyphs">August 11</text><text x="450.00" y="24.10" font-size="13.08" font-weight="normal" fill="#333333" stroke="#333333" stroke-width="0.35" textLength="124.21" lengthAdjust="spacingAndGlyphs">DAILY NEW CASES</text><text x="418.60" y="61.30" font-size="32.85" font-weight="normal" fill="#1a1a1a" stroke="#1a1a1a" stroke-width="0.55" textLength="186.20" lengthAdjust="spacingAndGlyphs">AUSTRALIA</text><text x="348.80" y="572.60" font-size="10.17" font-weight="normal" fill="#808080" stroke="#808080" stroke-width="0.15" textLength="329.00" lengthAdjust="spacingAndGlyphs">Source: Johns Hopkins CSSE COVID-19 Data - 7 Day Avg. / @ianmSC</text><line x1="173.7" y1="123" x2="173.7" y2="234" stroke="#eaa377" stroke-width="2"/><path d="M171.9 230.0L175.5 230.0L173.7 233.5Z" fill="#e49a6a"/><line x1="327.5" y1="377.3" x2="327.5" y2="468.5" stroke="#eaa377" stroke-width="2"/><path d="M325.7 464.5L329.3 464.5L327.5 468.0Z" fill="#e49a6a"/><line x1="545.1" y1="371.7" x2="545.1" y2="503" stroke="#eaa377" stroke-width="2"/><path d="M543.3 499.0L546.9 499.0L545.1 502.5Z" fill="#e49a6a"/><line x1="570.0" y1="337.6" x2="570.0" y2="499.4" stroke="#eaa377" stroke-width="2"/><path d="M568.2 495.4L571.8 495.4L570.0 498.9Z" fill="#e49a6a"/><line x1="680.8" y1="426" x2="680.8" y2="502.6" stroke="#eaa377" stroke-width="2"/><path d="M679.0 498.6L682.6 498.6L680.8 502.1Z" fill="#e49a6a"/><line x1="696.3" y1="421.6" x2="696.3" y2="501.8" stroke="#eaa377" stroke-width="2"/><path d="M694.5 497.8L698.1 497.8L696.3 501.3Z" fill="#e49a6a"/><line x1="763.8" y1="317.2" x2="763.8" y2="499.4" stroke="#eaa377" stroke-width="2"/><path d="M762.0 495.4L765.6 495.4L763.8 498.9Z" fill="#e49a6a"/><line x1="809.2" y1="277.2" x2="809.2" y2="493.2" stroke="#eaa377" stroke-width="2"/><path d="M807.4 489.2L811.0 489.2L809.2 492.7Z" fill="#e49a6a"/><line x1="870.7" y1="366" x2="870.7" y2="499.5" stroke="#eaa377" stroke-width="2"/><path d="M868.9 495.5L872.5 495.5L870.7 499.0Z" fill="#e49a6a"/><line x1="912.2" y1="176.5" x2="912.2" y2="326.5" stroke="#eaa377" stroke-width="2"/><line x1="912.2" y1="356.5" x2="912.2" y2="497.5" stroke="#eaa377" stroke-width="2"/><path d="M910.4 493.5L914.0 493.5L912.2 497.0Z" fill="#e49a6a"/><line x1="945.6" y1="122.9" x2="945.6" y2="434.7" stroke="#eaa377" stroke-width="2"/><path d="M943.8 430.7L947.4 430.7L945.6 434.2Z" fill="#e49a6a"/><line x1="958.8" y1="76.6" x2="958.8" y2="399.8" stroke="#eaa377" stroke-width="2"/><path d="M957.0 395.8L960.6 395.8L958.8 399.3Z" fill="#e49a6a"/><line x1="969.0" y1="49.5" x2="969.0" y2="350.5" stroke="#eaa377" stroke-width="2"/><path d="M967.2 346.5L970.8 346.5L969.0 350.0Z" fill="#e49a6a"/><line x1="991.4" y1="29.6" x2="991.4" y2="234.6" stroke="#eaa377" stroke-width="2"/><path d="M989.6 230.6L993.2 230.6L991.4 234.1Z" fill="#e49a6a"/><circle cx="173.7" cy="123" r="2.1" fill="#de9360"/><circle cx="327.5" cy="377.3" r="2.1" fill="#de9360"/><circle cx="545.1" cy="371.7" r="2.1" fill="#de9360"/><circle cx="570.0" cy="337.6" r="2.1" fill="#de9360"/><circle cx="680.8" cy="426" r="2.1" fill="#de9360"/><circle cx="696.3" cy="421.6" r="2.1" fill="#de9360"/><circle cx="763.8" cy="317.2" r="2.1" fill="#de9360"/><circle cx="809.2" cy="277.2" r="2.1" fill="#de9360"/><circle cx="870.7" cy="366" r="2.1" fill="#de9360"/><circle cx="912.2" cy="176.5" r="2.1" fill="#de9360"/><circle cx="945.6" cy="122.9" r="2.1" fill="#de9360"/><circle cx="958.8" cy="76.6" r="2.1" fill="#de9360"/><circle cx="969.0" cy="49.5" r="2.1" fill="#de9360"/><circle cx="991.4" cy="29.6" r="2.1" fill="#de9360"/></svg></body></html>
